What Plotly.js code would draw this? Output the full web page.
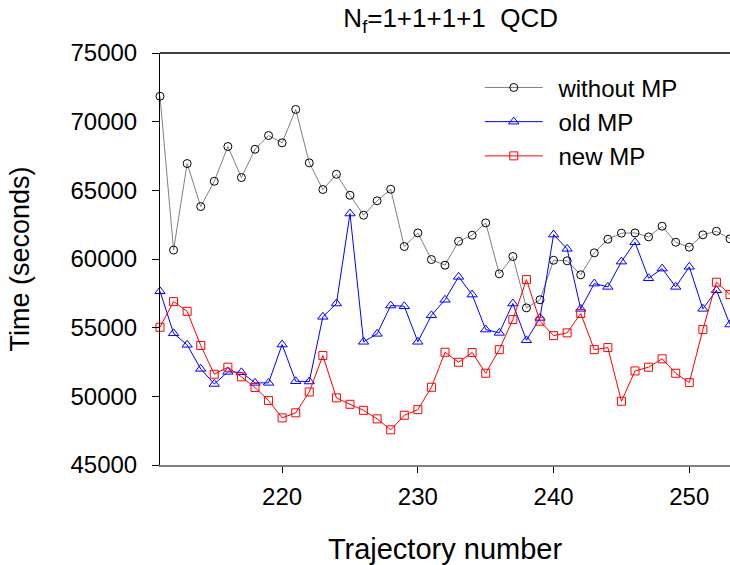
<!DOCTYPE html>
<html>
<head>
<meta charset="utf-8">
<script src="https://cdn.plot.ly/plotly-3.0.1.min.js"></script>
<style>html,body{margin:0;padding:0;background:#fff}#chart{width:730px;height:565px}</style>
</head>
<body>
<div id="chart"></div>
<script>
// Trajectory numbers 211..253
const trajectory = [211,212,213,214,215,216,217,218,219,220,221,222,223,224,225,226,227,228,229,230,231,232,233,234,235,236,237,238,239,240,241,242,243,244,245,246,247,248,249,250,251,252,253];

const withoutMP = [71850,60650,66950,63820,65660,68190,65930,67990,68990,68460,70890,67000,65060,66170,64640,63190,64240,65080,60910,61900,59960,59550,61290,61730,62630,58920,60180,56440,57030,59910,59870,58850,60450,61440,61880,61900,61610,62390,61220,60860,61760,62020,61470];

const oldMP = [57650,54590,53750,52000,50900,51780,51750,50980,50980,53770,51100,51080,55790,56760,63310,53970,54550,56610,56560,53970,55900,57030,58700,57410,54860,54620,56760,54080,55710,61780,60740,56370,58210,57970,59810,61220,58600,59300,57970,59430,56370,57720,55230];

const newMP = [55030,56900,56190,53700,51610,52120,51420,50640,49690,48430,48800,50320,52970,49890,49420,48980,48360,47560,48620,49030,50660,53210,52480,53190,51680,53400,55590,58500,55470,54420,54620,56030,53400,53550,49640,51850,52120,52730,51680,51000,54860,58310,57410];

const seriesNames = ["without MP", "old MP", "new MP"];
const yTicks = [45000,50000,55000,60000,65000,70000,75000];
const xTicks = [220,230,240,250];

const font = "Arial, 'Liberation Sans', sans-serif";
const pad = "\u00a0\u200a\u200a";

const traces = [
  {x: trajectory, y: withoutMP, name: pad + seriesNames[0], mode: "lines+markers", cliponaxis: false,
   line: {color: "#808080", width: 1},
   marker: {symbol: "circle-open", size: 8, color: "#000000", line: {width: 1, color: "#000000"}}},
  {x: trajectory, y: oldMP, name: pad + seriesNames[1], mode: "lines+markers", cliponaxis: false,
   line: {color: "#0000ff", width: 1},
   marker: {symbol: "triangle-up-open", size: 9, color: "#0000ff", line: {width: 1, color: "#0000ff"}}},
  {x: trajectory, y: newMP, name: pad + seriesNames[2], mode: "lines+markers", cliponaxis: false,
   line: {color: "#ff0000", width: 1},
   marker: {symbol: "square-open", size: 8, color: "#ff0000", line: {width: 1, color: "#ff0000"}}}
];

const layout = {
  width: 730, height: 565,
  margin: {l: 160, r: 0, t: 53, b: 100},
  paper_bgcolor: "#ffffff", plot_bgcolor: "#ffffff",
  font: {family: font, color: "#000000", size: 24},
  title: {text: "N<sub>f</sub>=1+1+1+1\u00a0\u00a0QCD", x: 0.51, xref: "paper", xanchor: "center",
          y: 0.968, yref: "container", yanchor: "middle", font: {family: font, size: 26, color: "#000"}},
  xaxis: {range: [211, 253], tickvals: xTicks, ticktext: xTicks.map(String),
          showgrid: false, zeroline: false, showline: true, linecolor: "#808080", linewidth: 2,
          ticks: "outside", ticklen: 6, tickcolor: "#000", tickwidth: 1, ticklabelstandoff: 3,
          tickfont: {family: font, size: 24, color: "#000"},
          title: {text: "Trajectory number", font: {family: font, size: 29, color: "#000"}, standoff: 30}},
  yaxis: {range: [45000, 75000], tickvals: yTicks, ticktext: yTicks.map(String),
          showgrid: false, zeroline: false, showline: true, linecolor: "#000", linewidth: 1,
          ticks: "outside", ticklen: 7, tickcolor: "#000", tickwidth: 1, ticklabelstandoff: 10,
          tickfont: {family: font, size: 24, color: "#000"},
          title: {text: "Time (seconds)", font: {family: font, size: 27, color: "#000"}, standoff: 33}},
  legend: {x: 0.561, y: 0.970, xanchor: "left", yanchor: "top", bgcolor: "rgba(0,0,0,0)",
           itemwidth: 58, font: {family: font, size: 24, color: "#000"}, tracegroupgap: 0},
  shapes: [{type: "line", xref: "paper", yref: "paper", x0: 0, x1: 1, y0: 1, y1: 1,
            line: {color: "#000", width: 1.5}}],
  showlegend: true
};

Plotly.newPlot("chart", traces, layout, {displayModeBar: false, staticPlot: true});
</script>
</body>
</html>
